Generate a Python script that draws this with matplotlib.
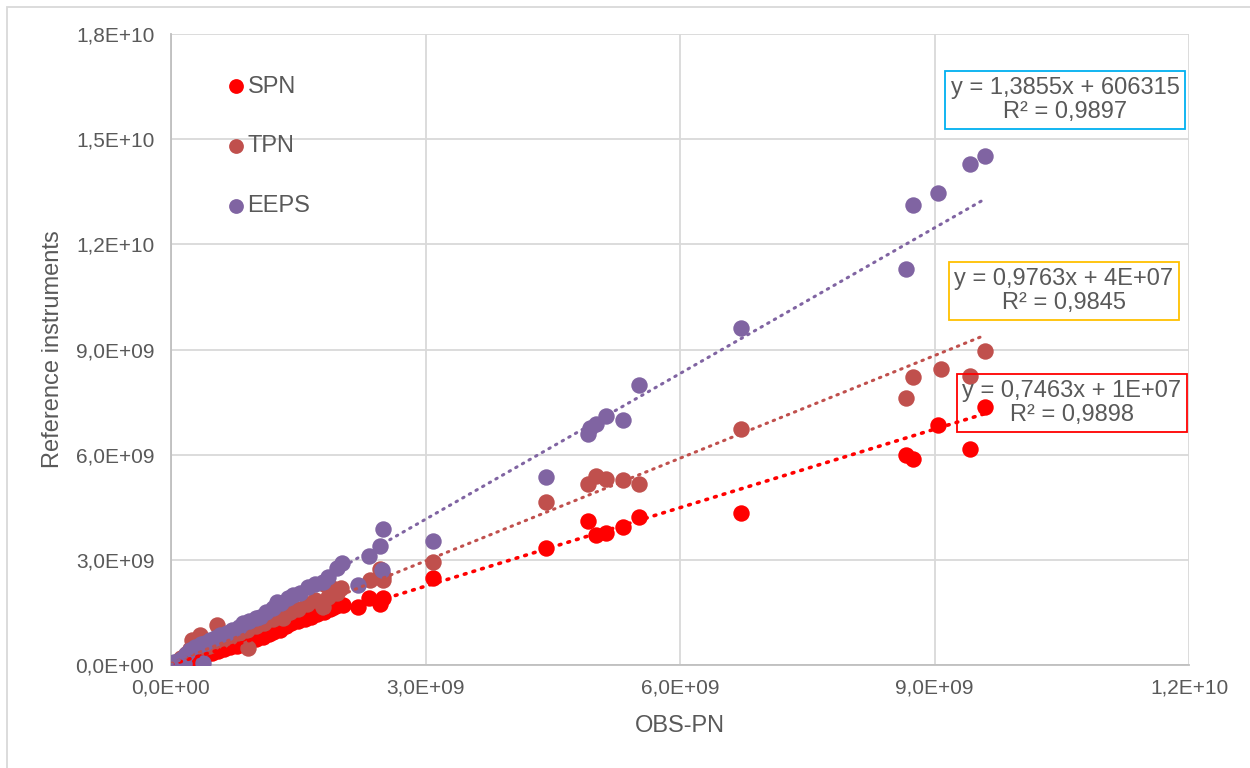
import matplotlib.pyplot as plt
from matplotlib.patches import Rectangle
from matplotlib.ticker import FuncFormatter
import numpy as np

plt.rcParams['font.family'] = ['Liberation Sans', 'DejaVu Sans']

# values in units of 1e9
spn_x = [0.02, 0.05, 0.10, 0.15, 0.20, 0.25, 0.30, 0.35, 0.42, 0.48, 0.55, 0.62, 0.70, 0.78,
         0.85, 0.92, 1.00, 1.08, 1.15, 1.20, 1.28, 1.35, 1.42, 1.50, 1.58, 1.65, 1.72, 1.80,
         1.88, 1.95, 2.03, 2.20, 2.33, 2.46, 2.50, 3.09, 4.42, 4.92, 5.01, 5.13, 5.33, 5.52,
         6.72, 8.66, 8.75, 9.04, 9.42, 9.60]
spn_y = [0.03, 0.05, 0.06, 0.10, 0.15, 0.20, 0.22, 0.28, 0.30, 0.35, 0.40, 0.45, 0.50, 0.55,
         0.62, 0.68, 0.75, 0.80, 0.88, 0.95, 1.00, 1.10, 1.20, 1.25, 1.30, 1.38, 1.45, 1.50,
         1.60, 1.68, 1.72, 1.65, 1.91, 1.74, 1.91, 2.48, 3.34, 4.11, 3.71, 3.77, 3.94, 4.22,
         4.34, 5.99, 5.88, 6.85, 6.16, 7.36]

tpn_x = [0.02, 0.08, 0.12, 0.18, 0.22, 0.25, 0.30, 0.34, 0.40, 0.45, 0.50, 0.54, 0.60, 0.70,
         0.80, 0.90, 0.91, 1.00, 1.10, 1.20, 1.32, 1.40, 1.50, 1.60, 1.70, 1.79, 1.80, 1.85,
         1.90, 1.96, 2.00, 2.35, 2.46, 2.50, 2.50, 3.09, 4.42, 4.92, 5.01, 5.13, 5.33, 5.52,
         6.72, 8.66, 8.75, 9.08, 9.42, 9.60]
tpn_y = [0.04, 0.10, 0.20, 0.30, 0.45, 0.70, 0.60, 0.86, 0.50, 0.55, 0.65, 1.14, 0.70, 0.80,
         0.90, 1.00, 0.48, 1.10, 1.20, 1.30, 1.35, 1.50, 1.60, 1.75, 1.85, 1.65, 2.30, 1.95,
         2.20, 2.05, 2.20, 2.42, 2.74, 2.42, 2.55, 2.94, 4.65, 5.16, 5.39, 5.30, 5.28, 5.16,
         6.73, 7.62, 8.21, 8.44, 8.24, 8.96]

eeps_x = [0.00, 0.03, 0.08, 0.12, 0.15, 0.18, 0.22, 0.28, 0.35, 0.38, 0.40, 0.46, 0.52, 0.58,
          0.66, 0.72, 0.80, 0.85, 0.92, 1.00, 1.05, 1.12, 1.20, 1.25, 1.30, 1.38, 1.44, 1.52,
          1.61, 1.70, 1.79, 1.85, 1.96, 2.02, 2.20, 2.33, 2.46, 2.49, 2.50, 3.09, 4.42, 4.92,
          4.94, 5.01, 5.13, 5.33, 5.52, 6.72, 8.66, 8.75, 9.04, 9.42, 9.60]
eeps_y = [0.02, 0.08, 0.12, 0.18, 0.04, 0.30, 0.43, 0.50, 0.60, 0.06, 0.62, 0.71, 0.78, 0.85,
          0.91, 1.00, 1.08, 1.20, 1.25, 1.35, 1.37, 1.50, 1.62, 1.80, 1.78, 1.90, 2.00, 2.05,
          2.22, 2.30, 2.37, 2.50, 2.77, 2.91, 2.28, 3.11, 3.39, 2.71, 3.88, 3.54, 5.36, 6.59,
          6.76, 6.87, 7.10, 6.99, 7.99, 9.61, 11.30, 13.12, 13.46, 14.29, 14.52]

series = ['SPN', 'TPN', 'EEPS']
colors = ['#FF0000', '#C0504D', '#8064A2']
slopes = [0.7463, 0.9763, 1.3855]
intercepts = [1e7, 4e7, 606315]
eq_labels = ['y = 0,7463x + 1E+07\nR² = 0,9898',
             'y = 0,9763x + 4E+07\nR² = 0,9845',
             'y = 1,3855x + 606315\nR² = 0,9897']
eq_edges = ['#FF0000', '#FFC000', '#00B0F0']

xs = [np.array(spn_x) * 1e9, np.array(tpn_x) * 1e9, np.array(eeps_x) * 1e9]
ys = [np.array(spn_y) * 1e9, np.array(tpn_y) * 1e9, np.array(eeps_y) * 1e9]

fig = plt.figure(figsize=(12.5, 7.68), dpi=100)
ax = fig.add_axes([171/1250, 1-665/768, (1189-171)/1250, (665-34)/768])

gray = '#595959'
for i in range(3):
    ax.scatter(xs[i], ys[i], s=140, color=colors[i], label=series[i], zorder=3 + i, linewidths=0)
for i in range(3):
    tx = np.array([0, xs[i].max()])
    lw = 2.6 if i == 0 else 2.2
    ax.plot(tx, slopes[i] * tx + intercepts[i], color=colors[i], linestyle=(0, (0.5, 2.0)),
            dash_capstyle='round', linewidth=lw, zorder=7)

ax.set_xlim(0, 1.2e10)
ax.set_ylim(0, 1.8e10)
ax.set_xticks(np.arange(0, 1.21e10, 3e9))
ax.set_yticks(np.arange(0, 1.81e10, 3e9))
fmt = FuncFormatter(lambda v, p: ('%.1E' % v).replace('.', ','))
ax.xaxis.set_major_formatter(fmt)
ax.yaxis.set_major_formatter(fmt)
ax.tick_params(length=0, labelsize=15, colors=gray)
ax.tick_params(axis='y', pad=12)
ax.tick_params(axis='x', pad=10)
ax.grid(True, color='#D9D9D9', linewidth=1.3)
ax.set_axisbelow(True)
for s in ['top', 'right']:
    ax.spines[s].set_visible(False)
for s in ['left', 'bottom']:
    ax.spines[s].set_color('#BFBFBF')
    ax.spines[s].set_linewidth(1.3)

ax.set_xlabel('OBS-PN', fontsize=17, color=gray, labelpad=12.5)
ax.set_ylabel('Reference instruments', fontsize=17, color=gray, labelpad=8)

leg = ax.legend(loc='upper left', bbox_to_anchor=(0.031, 0.949), frameon=False, fontsize=17,
                labelspacing=1.6, handletextpad=-0.5, markerscale=0.9, labelcolor=gray,
                borderaxespad=0)

eq_pos = [(1072, 403), (1064, 291), (1065, 100)]
for i in range(3):
    fig.text(eq_pos[i][0] / 1250, 1 - eq_pos[i][1] / 768, eq_labels[i], ha='center', va='center',
             fontsize=17, color=gray, linespacing=1.1, zorder=10,
             bbox=dict(boxstyle='square,pad=0.25', facecolor='none', edgecolor=eq_edges[i], linewidth=1.3))

fig.patches.append(Rectangle((7/1250, -0.05), 1.2, 1 - 7/768 + 0.05, transform=fig.transFigure,
                             fill=False, edgecolor='#D9D9D9', linewidth=1.3))

fig.savefig('out.png', dpi=100)
